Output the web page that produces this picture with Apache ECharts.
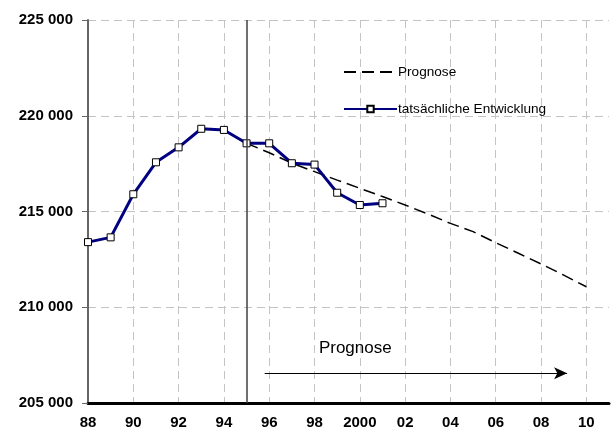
<!DOCTYPE html>
<html>
<head>
<meta charset="utf-8">
<script src="https://cdn.jsdelivr.net/npm/echarts@6/dist/echarts.min.js"></script>
<style>
  html, body { margin: 0; padding: 0; background: #fff; }
  #main { width: 613px; height: 431px; }
</style>
</head>
<body>
<div id="main"></div>
<script>
// years on the x axis (1988 .. 2011, last one only pads the right edge)
var years = [];
for (var y = 1988; y <= 2011; y++) years.push(y);

// actual development 1988-2001
var actual = [213400, 213650, 215900, 217570, 218350, 219320, 219260,
  218560, 218560, 217520, 217450, 215980, 215340, 215430];

// forecast from 1995 to 2010
var prognose = [null, null, null, null, null, null, null,
  218560, 218070, 217520, 217080, 216640, 216210, 215780, 215340,
  214870, 214380, 213950, 213370, 212820, 212260, 211680, 211070];

var yTicks = [205000, 210000, 215000, 220000, 225000];
var splitYear = 7;                 // index of 1995
// annotation arrow, in year-index units (hidden value axis 0..23)
var arrowFrom = [7.8, 206550];
var arrowTo = [21.15, 206550];
var arrowText = [11.8, 207870];

var font = "'Liberation Sans', Arial, sans-serif";

function fmtY(v) {
  var s = String(v);
  return s.slice(0, s.length - 3) + ' ' + s.slice(-3);
}
function fmtX(v) {
  var n = Number(v);
  if (n === 2000) return '2000';
  var r = n % 100;
  return (r < 10 ? '0' : '') + r;
}

var chart = echarts.init(document.getElementById('main'));
chart.setOption({
  animation: false,
  backgroundColor: '#fff',
  textStyle: { fontFamily: font },
  grid: { left: 88, right: 4, top: 20, bottom: 28 },
  legend: {
    orient: 'vertical',
    left: 338,
    top: 60,
    itemWidth: 53,
    itemHeight: 8,
    itemGap: 23,
    textStyle: { fontSize: 13.6, color: '#000', fontFamily: font, padding: [0, 0, 0, -4] },
    data: [
      { name: 'Prognose', itemStyle: { color: 'rgba(0,0,0,0)', borderWidth: 0 } },
      { name: 'tatsächliche Entwicklung' }
    ]
  },
  xAxis: [
    {
      type: 'category',
      boundaryGap: false,
      data: years,
      axisLine: { lineStyle: { color: '#000', width: 3 } },
      axisTick: { show: false },
      axisLabel: {
        interval: 1,
        margin: 12,
        formatter: fmtX,
        color: '#000',
        fontWeight: 'bold',
        fontSize: 15,
        fontFamily: font
      },
      splitLine: {
        show: true,
        interval: function (idx) { return idx > 0 && idx % 2 === 0; },
        lineStyle: { color: '#c4c4c4', type: [8, 5], width: 1 }
      }
    },
    {
      type: 'value',
      min: 0,
      max: years.length - 1,
      show: false
    }
  ],
  yAxis: {
    type: 'value',
    min: yTicks[0],
    max: yTicks[yTicks.length - 1],
    interval: 5000,
    axisLine: { show: true, lineStyle: { color: '#666', width: 2 } },
    axisTick: { show: true, length: 6, lineStyle: { color: '#666', width: 1 } },
    axisLabel: {
      margin: 15,
      formatter: fmtY,
      color: '#000',
      fontWeight: 'bold',
      fontSize: 15,
      fontFamily: font
    },
    splitLine: { lineStyle: { color: '#c4c4c4', type: [8, 5], width: 1 } }
  },
  series: [
    {
      name: 'Prognose',
      type: 'line',
      data: prognose,
      symbol: 'none',
      itemStyle: { color: '#000' },
      lineStyle: { color: '#000', width: 1.5, type: [12, 6] },
      z: 3,
      markLine: {
        silent: true,
        animation: false,
        label: { show: false },
        symbol: 'none',
        data: [
          [
            { coord: [splitYear, yTicks[0]] },
            { coord: [splitYear, yTicks[yTicks.length - 1]] }
          ]
        ],
        lineStyle: { color: '#404040', width: 1.5, type: 'solid' }
      }
    },
    {
      name: 'tatsächliche Entwicklung',
      type: 'line',
      data: actual,
      symbol: 'rect',
      symbolSize: 7,
      itemStyle: { color: '#fff', borderColor: '#000', borderWidth: 1 },
      lineStyle: { color: '#000080', width: 3 },
      z: 4
    },
    {
      name: 'annotation',
      type: 'line',
      xAxisIndex: 1,
      data: [],
      markLine: {
        silent: true,
        animation: false,
        label: { show: false },
        data: [[
          { coord: arrowFrom, symbol: 'none' },
          { coord: arrowTo, symbol: 'arrow', symbolSize: [9, 13] }
        ]],
        lineStyle: { color: '#000', width: 1.2, type: 'solid' }
      },
      markPoint: {
        silent: true,
        data: [{
          coord: arrowText,
          symbol: 'circle',
          symbolSize: 0,
          label: {
            show: true,
            position: 'inside',
            formatter: 'Prognose',
            color: '#000',
            fontSize: 17,
            fontFamily: font
          }
        }]
      }
    }
  ]
});
</script>
</body>
</html>
